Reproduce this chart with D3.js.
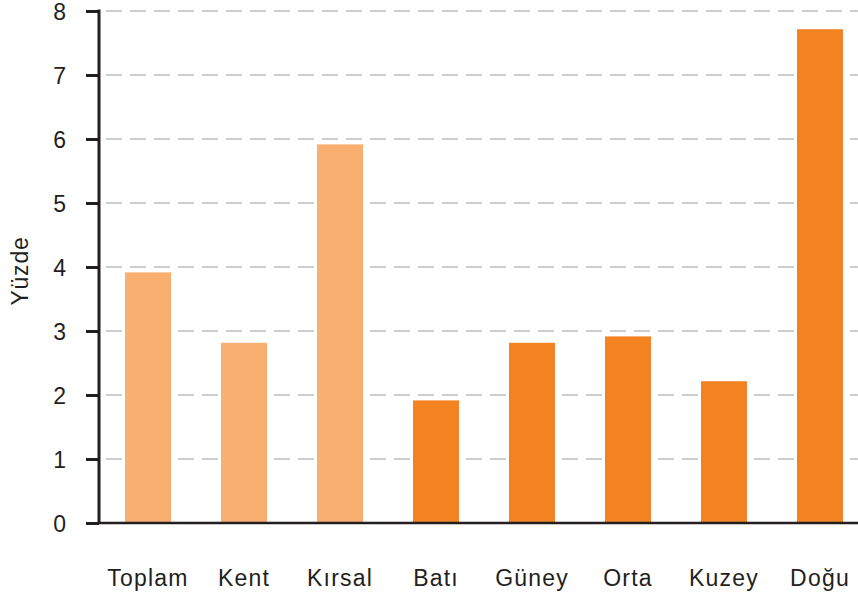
<!DOCTYPE html>
<html>
<head>
<meta charset="utf-8">
<script src="https://cdn.jsdelivr.net/npm/d3@7"></script>
<style>
  html, body { margin: 0; padding: 0; background: #fff; }
  svg { display: block; }
  text { font-family: "Liberation Sans", Arial, sans-serif; fill: #231f20; }
</style>
</head>
<body>
<svg id="chart" width="858" height="592"></svg>
<script>
const categories = ["Toplam", "Kent", "Kırsal", "Batı", "Güney", "Orta", "Kuzey", "Doğu"];
const values = [3.9, 2.8, 5.9, 1.9, 2.8, 2.9, 2.2, 7.7];
const groups = ["light", "light", "light", "dark", "dark", "dark", "dark", "dark"];
const yTicks = [0, 1, 2, 3, 4, 5, 6, 7, 8];
const yLabel = "Yüzde";

const colors = { light: "#f9af70", dark: "#f48422" };

const svg = d3.select("#chart");
const W = 858, H = 592;
const axisX = 99, y0 = 523, y8 = 11;

const x = d3.scaleBand()
  .domain(categories)
  .range([100, 868])
  .paddingInner(0.5208)
  .paddingOuter(0.2604);

const y = d3.scaleLinear().domain([0, 8]).range([y0, y8]);

// gridlines
svg.append("g").selectAll("line")
  .data(yTicks.filter(d => d > 0))
  .join("line")
  .attr("x1", 106).attr("x2", W)
  .attr("y1", d => y(d)).attr("y2", d => y(d))
  .attr("stroke", "#cfcfcf")
  .attr("stroke-width", 2)
  .attr("stroke-dasharray", "16,8");

// bars
svg.append("g").selectAll("rect")
  .data(categories)
  .join("rect")
  .attr("x", d => x(d))
  .attr("width", x.bandwidth())
  .attr("y", (d, i) => y(values[i]) - 1)
  .attr("height", (d, i) => y(0) - y(values[i]) + 1)
  .attr("fill", (d, i) => colors[groups[i]]);

// y axis
const yAxis = d3.axisLeft(y).tickValues(yTicks).tickSize(13).tickPadding(20).tickFormat(d3.format("d"));
const gy = svg.append("g").attr("transform", `translate(${axisX},0)`).call(yAxis);
gy.select(".domain").remove();
gy.append("line").attr("x1", 0).attr("x2", 0).attr("y1", y8 - 1.5).attr("y2", y0 + 1)
  .attr("stroke", "#231f20").attr("stroke-width", 3);
gy.selectAll(".tick line").attr("stroke", "#231f20").attr("stroke-width", 3);
gy.selectAll(".tick text")
  .style("font-family", "'Liberation Sans', Arial, sans-serif")
  .style("font-size", "23px")
  .attr("fill", "#231f20")
  .attr("dy", "0.36em");

// x axis baseline
const xAxis = d3.axisBottom(x).tickSize(0).tickPadding(47);
const gx = svg.append("g").attr("transform", `translate(0,${y0})`).call(xAxis);
gx.select(".domain").remove();
gx.append("line").attr("x1", axisX).attr("x2", W).attr("y1", 0).attr("y2", 0)
  .attr("stroke", "#231f20").attr("stroke-width", 2.5);
gx.selectAll(".tick text")
  .style("font-family", "'Liberation Sans', Arial, sans-serif")
  .style("font-size", "23px")
  .style("letter-spacing", "1.2px")
  .attr("fill", "#231f20");

// y label
svg.append("text")
  .attr("transform", `translate(28,271) rotate(-90)`)
  .attr("text-anchor", "middle")
  .style("font-size", "23px")
  .style("letter-spacing", "0.8px")
  .text(yLabel);
</script>
</body>
</html>
